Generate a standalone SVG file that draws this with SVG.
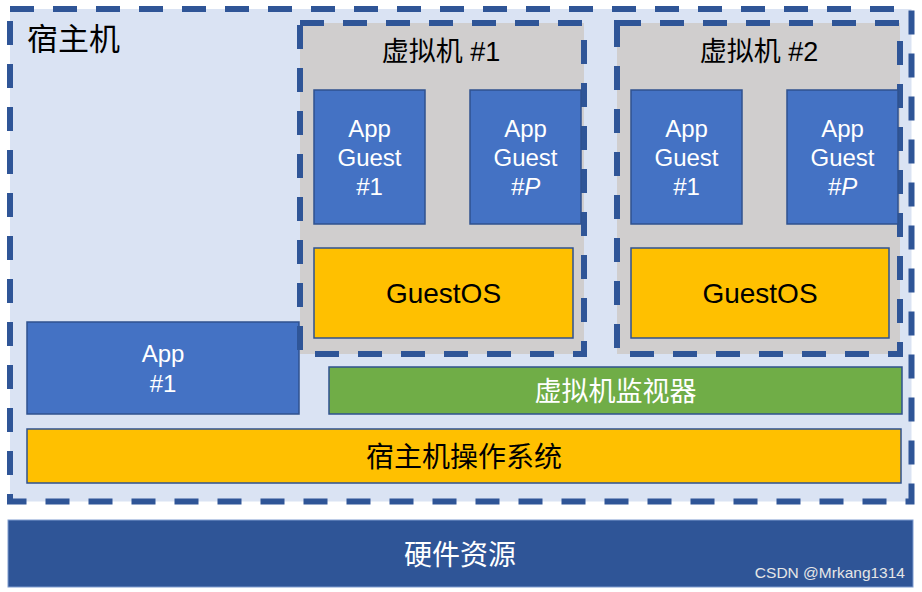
<svg xmlns="http://www.w3.org/2000/svg" width="922" height="592" viewBox="0 0 922 592">
<style>
text { font-family: "Liberation Sans", "Noto Sans CJK SC", sans-serif; }
.host { fill: #DAE3F3; stroke: #2F5597; stroke-width: 6; stroke-dasharray: 24 19; }
.vm { fill: #D0CECE; stroke: #2F5597; stroke-width: 6; stroke-dasharray: 24 19; }
.app { fill: #4472C4; stroke: #2F528F; stroke-width: 1.5; }
.os { fill: #FFC000; stroke: #2F528F; stroke-width: 1.5; }
.hv { fill: #70AD47; stroke: #2F528F; stroke-width: 1.5; }
.hw { fill: #2F5597; stroke: #7F9CCF; stroke-width: 1; }
.w { fill: #FFFFFF; }
.k { fill: #000000; }
.t24 { font-size: 24px; text-anchor: middle; }
.t28 { font-size: 28px; text-anchor: middle; }
</style>
<rect x="0" y="0" width="922" height="592" fill="#FFFFFF"/>
<g id="host">
  <rect class="host" x="10" y="9" width="901.5" height="492.5"/>
  <text x="27" y="50" font-size="31" class="k">宿主机</text>
</g>
<g id="host-app1">
  <rect class="app" x="27" y="322" width="272" height="92"/>
  <text class="t24 w" x="163" y="362">App</text>
  <text class="t24 w" x="163" y="392">#1</text>
</g>
<g id="vm1">
  <rect class="vm" x="300" y="23" width="284" height="331"/>
  <text class="k" x="441" y="61" font-size="27" text-anchor="middle">虚拟机 #1</text>
</g>
<g id="vm1-app1">
  <rect class="app" x="314" y="90" width="111" height="134"/>
  <text class="t24 w" x="369.5" y="137">App</text>
  <text class="t24 w" x="369.5" y="166">Guest</text>
  <text class="t24 w" x="369.5" y="195">#1</text>
</g>
<g id="vm1-appP">
  <rect class="app" x="470" y="90" width="111" height="134"/>
  <text class="t24 w" x="525.5" y="137">App</text>
  <text class="t24 w" x="525.5" y="166">Guest</text>
  <text class="t24 w" x="525.5" y="195" font-style="italic">#P</text>
</g>
<g id="vm1-guestos">
  <rect class="os" x="314" y="248" width="259" height="90"/>
  <text class="t28 k" x="443.5" y="303">GuestOS</text>
</g>
<g id="vm2">
  <rect class="vm" x="617" y="23" width="283" height="331"/>
  <text class="k" x="759" y="61" font-size="27" text-anchor="middle">虚拟机 #2</text>
</g>
<g id="vm2-app1">
  <rect class="app" x="631" y="90" width="111" height="134"/>
  <text class="t24 w" x="686.5" y="137">App</text>
  <text class="t24 w" x="686.5" y="166">Guest</text>
  <text class="t24 w" x="686.5" y="195">#1</text>
</g>
<g id="vm2-appP">
  <rect class="app" x="787" y="90" width="111" height="134"/>
  <text class="t24 w" x="842.5" y="137">App</text>
  <text class="t24 w" x="842.5" y="166">Guest</text>
  <text class="t24 w" x="842.5" y="195" font-style="italic">#P</text>
</g>
<g id="vm2-guestos">
  <rect class="os" x="631" y="248" width="258" height="90"/>
  <text class="t28 k" x="760" y="303">GuestOS</text>
</g>
<g id="hypervisor">
  <rect class="hv" x="329" y="367" width="573" height="47"/>
  <text class="w" x="615.5" y="401" font-size="27" text-anchor="middle">虚拟机监视器</text>
</g>
<g id="host-os">
  <rect class="os" x="27" y="429" width="874" height="54"/>
  <text class="t28 k" x="464" y="467">宿主机操作系统</text>
</g>
<g id="hardware">
  <rect class="hw" x="8" y="520" width="905" height="67"/>
  <text class="t28 w" x="460" y="565">硬件资源</text>
  <text x="905" y="578" font-size="15.5" fill="#E6E6E6" text-anchor="end">CSDN @Mrkang1314</text>
</g>
<g id="connectors"></g>
</svg>
